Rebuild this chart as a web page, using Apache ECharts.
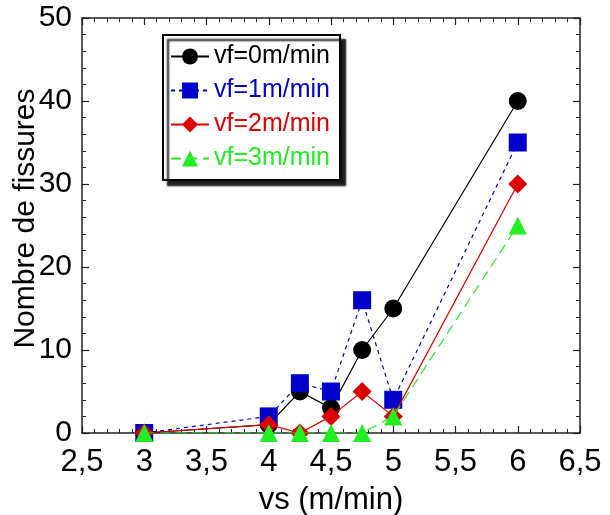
<!DOCTYPE html>
<html>
<head>
<meta charset="utf-8">
<script src="https://cdn.jsdelivr.net/npm/echarts@6/dist/echarts.min.js"></script>
<style>html,body{margin:0;padding:0;background:#fff}#c{width:610px;height:515px}</style>
</head>
<body>
<div id="c"></div>
<script>
const vs = [3, 4, 4.25, 4.5, 4.75, 5, 6];
const vf0 = [0, 1, 5, 3, 10, 15, 40];
const vf1 = [0, 2, 6, 5, 16, 4, 35];
const vf2 = [0, 1, 0, 2, 5, 2, 30];
const vf3 = [0, 0, 0, 0, 0, 2, 25];
const names = ['vf=0m/min', 'vf=1m/min', 'vf=2m/min', 'vf=3m/min'];
const colors = ['#000000', '#0000cc', '#dd0000', '#22ee22'];
const symbols = ['circle', 'rect', 'diamond', 'triangle'];
const symbolSizes = [18, 18, 19, 18];
const lineTypes = ['solid', [4, 4], 'solid', [10, 6]];
const allY = [vf0, vf1, vf2, vf3];

const FONT = 'Liberation Sans, Arial, sans-serif';
const chart = echarts.init(document.getElementById('c'));

const axisCommon = {
  axisLine: { show: true, onZero: false, lineStyle: { color: '#222', width: 1.5 } },
  axisTick: { show: true, inside: true, length: 7, lineStyle: { color: '#222', width: 1.2 } },
  minorTick: { show: true, splitNumber: 5, length: 4, lineStyle: { color: '#222', width: 1 } },
  splitLine: { show: false }
};

chart.setOption({
  animation: false,
  grid: { left: 82, right: 30, top: 18, bottom: 82, containLabel: false, outerBoundsMode: 'none' },
  xAxis: [
    Object.assign({}, axisCommon, {
      type: 'value', min: 2.5, max: 6.5, interval: 0.5,
      name: 'vs (m/min)', nameLocation: 'middle', nameGap: 52, nameMoveOverlap: false,
      nameTextStyle: { fontFamily: FONT, fontSize: 31, color: '#000' },
      axisLabel: { fontFamily: FONT, fontSize: 31, color: '#000', margin: 14,
        formatter: v => String(v).replace('.', ',') }
    }),
    Object.assign({}, axisCommon, {
      type: 'value', min: 2.5, max: 6.5, interval: 0.5, position: 'top',
      axisLabel: { show: false }
    })
  ],
  yAxis: [
    Object.assign({}, axisCommon, {
      type: 'value', min: 0, max: 50, interval: 10,
      name: 'Nombre de fissures', nameLocation: 'middle', nameGap: 41, nameRotate: 90,
      nameMoveOverlap: false,
      nameTextStyle: { fontFamily: FONT, fontSize: 30, color: '#000', padding: [0, 0, 0, 14] },
      axisLabel: { fontFamily: FONT, fontSize: 30, color: '#000', margin: 10 }
    }),
    Object.assign({}, axisCommon, {
      type: 'value', min: 0, max: 50, interval: 10, position: 'right',
      axisLabel: { show: false }
    })
  ],
  legend: {
    left: 163, top: 35, orient: 'vertical',
    padding: [9, 10, 9, 7],
    itemGap: 9, itemWidth: 38, itemHeight: 20,
    backgroundColor: '#fff', borderColor: '#000', borderWidth: 2,
    shadowColor: 'rgba(0,0,0,0.9)', shadowBlur: 2, shadowOffsetX: 5, shadowOffsetY: 5,
    textStyle: { fontFamily: FONT, fontSize: 25 },
    data: names.map((n, i) => ({ name: n, textStyle: { color: colors[i] } }))
  },
  series: names.map((n, i) => ({
    name: n, type: 'line',
    data: vs.map((x, j) => [x, allY[i][j]]),
    symbol: symbols[i], symbolSize: symbolSizes[i],
    itemStyle: { color: colors[i] },
    lineStyle: { color: colors[i], width: 1.2, type: lineTypes[i] },
    z: 2 + i
  }))
});
</script>
</body>
</html>
